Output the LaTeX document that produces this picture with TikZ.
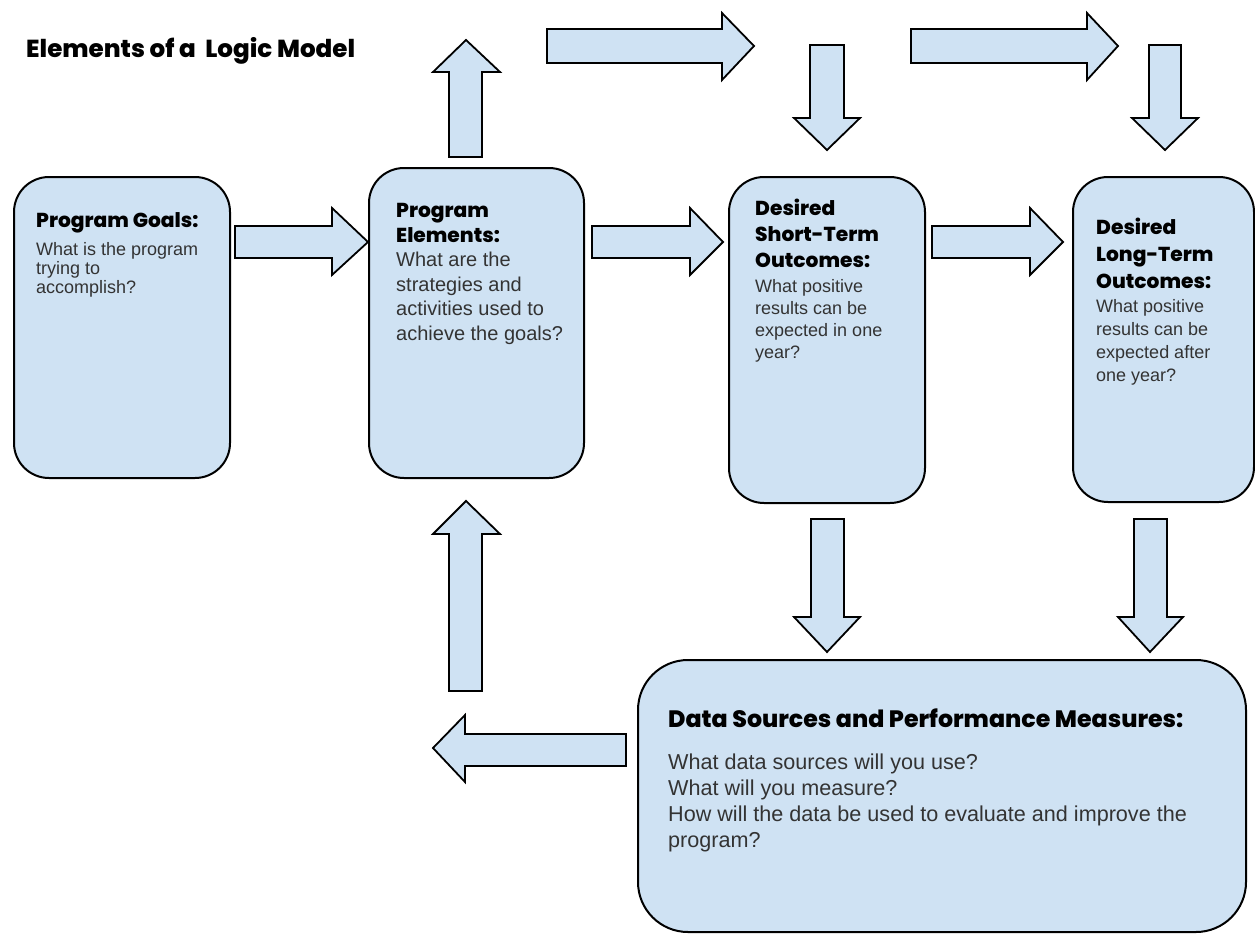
\documentclass[tikz,border=0pt]{standalone}
\usepackage{fontspec}
\setmainfont{Liberation Sans}
\newfontfamily\headfont{Poppins}[BoldFont={* ExtraBold}]
\definecolor{boxfill}{HTML}{CFE2F3}
\definecolor{bodytext}{HTML}{333333}
\tikzset{
  panel/.style={draw=black, line width=2pt, fill=boxfill, rounded corners=35pt,
    anchor=north west, inner sep=0pt},
  blockarrow/.style={draw=black, line width=1.8pt, fill=boxfill, line join=miter},
  % texts are placed by the baseline of their last line
  headtext/.style={anchor=base west, inner sep=0pt, align=left, text=black},
  bodytext/.style={anchor=base west, inner sep=0pt, align=left, text=bodytext},
}
\begin{document}
\begin{tikzpicture}[x=1pt,y=-1pt]
\useasboundingbox (0,0) rectangle (1255,934);
\fill[white] (0,0) rectangle (1255,934);

% title
\node[headtext, font=\headfont\bfseries\fontsize{24.6}{28}\selectfont] (title) at (26,57)
  {Elements of a \ Logic Model};

% panels
\node[panel, minimum width=216pt, minimum height=301pt] (goals) at (13,176) {};
\node[panel, minimum width=215pt, minimum height=310pt] (elements) at (368,167) {};
\node[panel, minimum width=196pt, minimum height=326pt] (short) at (728,176) {};
\node[panel, minimum width=181pt, minimum height=325pt] (long) at (1072,176) {};
\node[panel, rounded corners=50pt, minimum width=608pt, minimum height=272pt] (data) at (637,659) {};

% panel texts
\node[headtext, font=\headfont\bfseries\fontsize{20.2}{26}\selectfont] (goalsHead) at (36,227) {Program Goals:};
\node[bodytext, font=\fontsize{18}{18.8}\selectfont] (goalsBody) at (36,293)
  {What is the program\\trying to\\accomplish?};

\node[headtext, font=\headfont\bfseries\fontsize{20.2}{25}\selectfont] (elementsHead) at (396,242) {Program\\Elements:};
\node[bodytext, font=\fontsize{20}{24.4}\selectfont] (elementsBody) at (396,340)
  {What are the\\strategies and\\activities used to\\achieve the goals?};

\node[headtext, font=\headfont\bfseries\fontsize{20.2}{26}\selectfont] (shortHead) at (755,267) {Desired\\Short-Term\\Outcomes:};
\node[bodytext, font=\fontsize{18}{22}\selectfont] (shortBody) at (755,358)
  {What positive\\results can be\\expected in one\\year?};

\node[headtext, font=\headfont\bfseries\fontsize{20.2}{27}\selectfont] (longHead) at (1096,288) {Desired\\Long-Term\\Outcomes:};
\node[bodytext, font=\fontsize{18}{22.7}\selectfont] (longBody) at (1096,381)
  {What positive\\results can be\\expected after\\one year?};

\node[headtext, font=\headfont\bfseries\fontsize{23.7}{30}\selectfont] (dataHead) at (668,727)
  {Data Sources and Performance Measures:};
\node[bodytext, font=\fontsize{21.6}{26}\selectfont] (dataBody) at (668,847)
  {What data sources will you use?\\What will you measure?\\How will the data be used to evaluate and improve the\\program?};

% block arrows between panels
\draw[blockarrow] (235,226) -- (332,226) -- (332,208) -- (368,242) -- (332,275) -- (332,258) -- (235,258) -- cycle;
\draw[blockarrow] (592,226) -- (690,226) -- (690,208) -- (723,242) -- (690,275) -- (690,258) -- (592,258) -- cycle;
\draw[blockarrow] (932,226) -- (1030,226) -- (1030,208) -- (1063,242) -- (1030,275) -- (1030,258) -- (932,258) -- cycle;

% upper row of arrows
\draw[blockarrow] (449,157) -- (449,72) -- (433,72) -- (466,40) -- (500,72) -- (482,72) -- (482,157) -- cycle;
\draw[blockarrow] (547,29) -- (722,29) -- (722,13) -- (754,46) -- (722,80) -- (722,63) -- (547,63) -- cycle;
\draw[blockarrow] (810,45) -- (844,45) -- (844,118) -- (860,118) -- (827,150) -- (794,118) -- (810,118) -- cycle;
\draw[blockarrow] (911,29) -- (1087,29) -- (1087,13) -- (1118,46) -- (1087,80) -- (1087,63) -- (911,63) -- cycle;
\draw[blockarrow] (1149,45) -- (1181,45) -- (1181,118) -- (1198,118) -- (1165,150) -- (1132,118) -- (1149,118) -- cycle;

% lower arrows
\draw[blockarrow] (811,519) -- (844,519) -- (844,617) -- (860,617) -- (827,652) -- (794,617) -- (811,617) -- cycle;
\draw[blockarrow] (1134,519) -- (1167,519) -- (1167,617) -- (1183,617) -- (1150,652) -- (1118,617) -- (1134,617) -- cycle;
\draw[blockarrow] (626,734) -- (465,734) -- (465,715) -- (433,748) -- (465,782) -- (465,766) -- (626,766) -- cycle;
\draw[blockarrow] (449,691) -- (449,534) -- (433,534) -- (466,501) -- (500,534) -- (482,534) -- (482,691) -- cycle;
\end{tikzpicture}
\end{document}
